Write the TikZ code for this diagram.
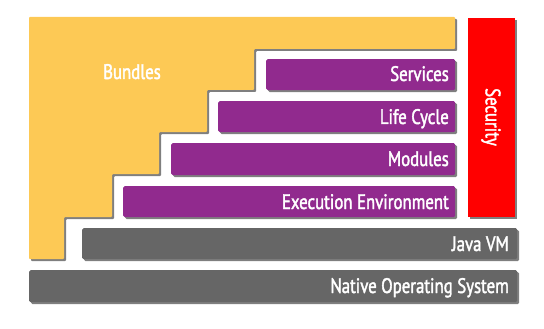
\documentclass[tikz,border=0pt]{standalone}
\usepackage{fontspec}
\setmainfont{PT Sans}[FakeStretch=0.8,FakeBold=1.8]
\usetikzlibrary{shadows}
\definecolor{bundleY}{HTML}{FDC955}
\definecolor{layerP}{HTML}{912A8E}
\definecolor{secR}{HTML}{FF0000}
\definecolor{baseG}{HTML}{666666}
\tikzset{
  shade3/.style={drop shadow={shadow xshift=2pt,shadow yshift=-2pt,opacity=0.5,fill=black}},
  layerbox/.style={rectangle,rounded corners=1.5pt,inner sep=0pt,anchor=north west,shade3},
  lblfont/.style={text=white,font=\fontsize{21}{21}\selectfont,inner sep=0pt},
  lbl/.style={lblfont,anchor=base east}
}
\begin{document}
\begin{tikzpicture}[x=1pt,y=-1pt]
\useasboundingbox (0,0) rectangle (544,329);
% Bundles polygon
\fill[bundleY,shade3,rounded corners=1pt] (29,17) -- (455,17) -- (455,49) -- (254,49) -- (254,90) -- (207,90) -- (207,132) -- (159,132) -- (159,174) -- (112,174) -- (112,217) -- (64,217) -- (64,259) -- (29,259) -- cycle;
\node[lblfont,anchor=base] (bundles) at (132,79) {Bundles};
% purple layers
\node[layerbox,fill=layerP,minimum width=189pt,minimum height=31pt] (svc) at (266,59) {};
\node[lbl] (svcl) at (449,81) {Services};
\node[layerbox,fill=layerP,minimum width=237pt,minimum height=31pt] (lc) at (218,101) {};
\node[lbl] (lcl) at (449,124) {Life Cycle};
\node[layerbox,fill=layerP,minimum width=284pt,minimum height=32pt] (mod) at (171,143) {};
\node[lbl] (modl) at (449,166) {Modules};
\node[layerbox,fill=layerP,minimum width=332pt,minimum height=31pt] (ee) at (123,186) {};
\node[lbl] (eel) at (449,209) {Execution Environment};
% security
\node[layerbox,fill=secR,rounded corners=0pt,minimum width=47pt,minimum height=199pt] (sec) at (468,18) {};
\node[lblfont,rotate=-90] (secl) at (491,117) {Security};
% gray layers
\node[layerbox,fill=baseG,minimum width=435pt,minimum height=31pt] (jvm) at (82,228) {};
\node[lbl] (jvml) at (509,251) {Java VM};
\node[layerbox,fill=baseG,minimum width=488pt,minimum height=32pt] (nos) at (29,270) {};
\node[lbl] (nosl) at (509,293) {Native Operating System};
\end{tikzpicture}
\end{document}
